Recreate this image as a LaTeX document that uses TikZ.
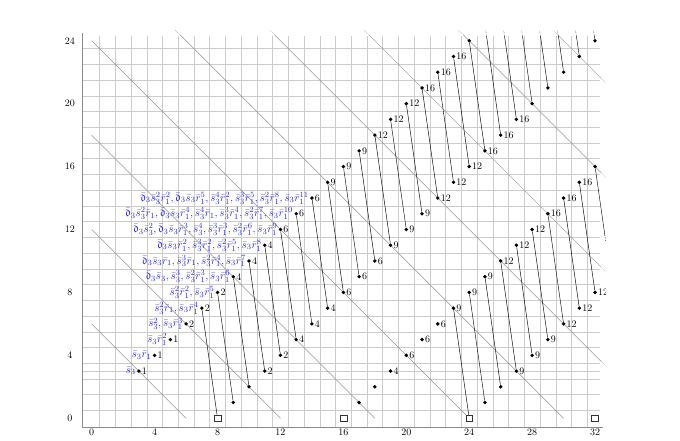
\documentclass[tikz,border=0pt]{standalone}
\usepackage{amssymb}
\definecolor{genblue}{rgb}{0.15,0.15,0.98}
\newcommand{\Sth}{\bar{s}_3}
\newcommand{\Rone}{\bar{r}_1}
\newcommand{\Dth}{\bar{\mathfrak{d}}_3}
\begin{document}
\begin{tikzpicture}[x=15.73pt,y=15.73pt,
  gridline/.style={draw=black!20, line width=0.45pt},
  axisline/.style={draw=black!45, line width=1pt},
  diag/.style={draw=black!42, line width=0.5pt},
  diff/.style={draw=black, line width=0.45pt},
  dotend/.style={dash pattern=on 0.5pt off 1.1pt},
  cls/.style={circle, fill=black, inner sep=0pt, minimum size=3.8pt},
  sqcls/.style={draw=black!80, fill=white, inner sep=0pt, minimum size=6.8pt, line width=0.4pt},
  cnt/.style={anchor=west, inner sep=0pt, xshift=2.8pt},
  gen/.style={anchor=east, inner sep=0pt, xshift=-3pt, text=genblue, font=\fontsize{10.8}{12}\selectfont},
  axlab/.style={inner sep=0pt}
]
\useasboundingbox (-5.83,-1.443) rectangle (37.40,26.59);

% grid
\foreach \x in {0.5,1.5,...,31.5} \draw[gridline] (\x,-0.6) -- (\x,24.3);
\foreach \y in {0.5,1.5,...,23.5} \draw[gridline] (-0.6,\y) -- (32.3,\y);
\draw[gridline, line width=0.9pt] (-0.6,3) -- (32.3,3);

% axes
\draw[axisline] (-0.6,24.5) -- (-0.6,-0.6) -- (32.5,-0.6);
\foreach \x in {0,4,...,32} \node[axlab] (xl\x) at (\x,-0.9) {\x};
\foreach \y in {0,4,...,24} \node[axlab] (yl\y) at (-1.38,\y) {\y};

\begin{scope}
\clip (-0.6,-0.6) rectangle (32.68,24.68);

% gray diagonals
\draw[diag] (0,6) -- (6,0);
\draw[diag] (0,12) -- (12,0);
\draw[diag] (0,18) -- (18,0);
\draw[diag] (0,24) -- (24,0);
\draw[diag,dotend] (5.32,24.68) -- (5.62,24.38);
\draw[diag] (5.62,24.38) -- (30,0);
\foreach \s in {36,42,48,54}{
  \pgfmathsetmacro{\xa}{\s-24.68}
  \pgfmathsetmacro{\xb}{\s-24.38}
  \pgfmathsetmacro{\ya}{\s-32.38}
  \pgfmathsetmacro{\yb}{\s-32.68}
  \draw[diag,dotend] (\xa,24.68) -- (\xb,24.38);
  \draw[diag] (\xb,24.38) -- (32.38,\ya);
  \draw[diag,dotend] (32.38,\ya) -- (32.68,\yb);
}

% first family: diagonal classes
\foreach \n/\c in {3/1,4/1,5/1,6/2,7/2,8/2,9/4,10/4,11/4,12/6,13/6,14/6,15/9,16/9,17/9,18/12,19/12,20/12,21/16,22/16,23/16,24/{}}{
  \node[cls] (A\n) at (\n,\n) {};
  \node[cnt] (Ac\n) at (A\n.center) {\c};
}
% generator labels
\node[gen] (g3) at (A3.center) {$\Sth$};
\node[gen] (g4) at (A4.center) {$\Sth\Rone$};
\node[gen] (g5) at (A5.center) {$\Sth\Rone^2$};
\node[gen] (g6) at (A6.center) {$\Sth^2, \Sth\Rone^3$};
\node[gen] (g7) at (A7.center) {$\Sth^2\Rone, \Sth\Rone^4$};
\node[gen] (g8) at (A8.center) {$\Sth^2\Rone^2, \Sth\Rone^5$};
\node[gen] (g9) at (A9.center) {$\Dth\Sth, \Sth^3, \Sth^2\Rone^3, \Sth\Rone^6$};
\node[gen] (g10) at (A10.center) {$\Dth\Sth\Rone, \Sth^3\Rone, \Sth^2\Rone^4, \Sth\Rone^7$};
\node[gen] (g11) at (A11.center) {$\Dth\Sth\Rone^2, \Sth^3\Rone^2, \Sth^2\Rone^5, \Sth\Rone^8$};
\node[gen] (g12) at (A12.center) {$\Dth\Sth^2, \Dth\Sth\Rone^3, \Sth^4, \Sth^3\Rone^3, \Sth^2\Rone^6, \Sth\Rone^9$};
\node[gen] (g13) at (A13.center) {$\Dth\Sth^2\Rone, \Dth\Sth\Rone^4, \Sth^4\Rone, \Sth^3\Rone^4, \Sth^2\Rone^7, \Sth\Rone^{10}$};
\node[gen] (g14) at (A14.center) {$\Dth\Sth^2\Rone^2, \Dth\Sth\Rone^5, \Sth^4\Rone^2, \Sth^3\Rone^5, \Sth^2\Rone^8, \Sth\Rone^{11}$};

% first family: targets
\node[sqcls] (B7) at (8,0) {};
\foreach \n/\c in {8/{},9/{},10/2,11/2,12/4,13/4,14/4,15/6,16/6,17/6,18/9,19/9,20/9,21/12,22/12,23/12,24/16,25/16,26/16,27/{},28/{},29/{},30/{},31/{}}{
  \pgfmathtruncatemacro{\bx}{\n+1}
  \pgfmathtruncatemacro{\by}{\n-7}
  \node[cls] (B\n) at (\bx,\by) {};
  \node[cnt] (Bc\n) at (B\n.center) {\c};
}
\foreach \n in {7,...,24} \draw[diff] (A\n) -- (B\n);
\foreach \n in {25,...,31}{
  \pgfmathsetmacro{\xa}{\n+1-(24.30-\n+7)/7}
  \pgfmathsetmacro{\xb}{\n+1-(24.68-\n+7)/7}
  \coordinate (Bu\n) at (\xa,24.30);
  \coordinate (Bv\n) at (\xb,24.68);
  \draw[diff] (B\n) -- (Bu\n);
  \draw[diff,dotend] (Bu\n) -- (Bv\n);
}

% second family
\node[sqcls] (C0) at (16,0) {};
\foreach \k/\c in {1/{},2/{},3/4,4/6,5/6,6/6,7/9,8/9,9/9,10/12,11/12,12/12,13/16,14/16,15/16,16/{}}{
  \pgfmathtruncatemacro{\cx}{16+\k}
  \node[cls] (C\k) at (\cx,\k) {};
  \node[cnt] (Cc\k) at (C\k.center) {\c};
}
\node[sqcls] (D7) at (24,0) {};
\foreach \k/\c in {8/{},9/{},10/9,11/9,12/9,13/12,14/12,15/12}{
  \pgfmathtruncatemacro{\dx}{17+\k}
  \pgfmathtruncatemacro{\dy}{\k-7}
  \node[cls] (D\k) at (\dx,\dy) {};
  \node[cnt] (Dc\k) at (D\k.center) {\c};
}
\foreach \k in {7,...,15} \draw[diff] (C\k) -- (D\k);
\coordinate (Du16) at (32.626,11.62);
\coordinate (Dv16) at (32.68,11.24);
\draw[diff] (C16) -- (Du16);
\draw[diff,dotend] (Du16) -- (Dv16);

% third family origin
\node[sqcls] (E0) at (32,0) {};
\end{scope}
\end{tikzpicture}
\end{document}
